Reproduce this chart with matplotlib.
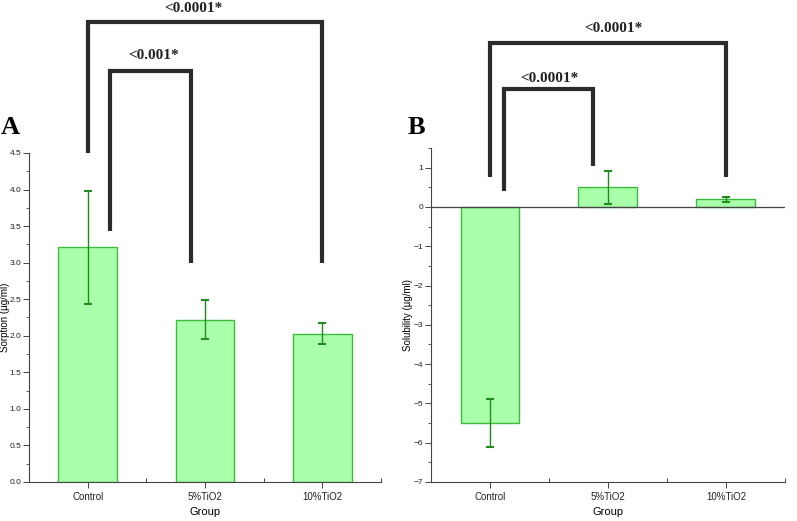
import matplotlib.pyplot as plt
import numpy as np

groups = ["Control", "5%TiO2", "10%TiO2"]
sorption = [3.21, 2.22, 2.03]
sorption_err = [0.77, 0.265, 0.14]
solubility = [-5.5, 0.5, 0.2]
solubility_err = [0.6, 0.42, 0.065]

# significance brackets: left x, right x, left foot, right foot, top, label, label x, label y
sig_a = [(0.0, 2.0, 4.5, 3.0, 6.29, "<0.0001*", 0.90, 6.47),
         (0.19, 0.88, 3.43, 3.0, 5.62, "<0.001*", 0.56, 5.83)]
sig_b = [(0.0, 2.0, 0.76, 0.76, 4.17, "<0.0001*", 1.05, 4.53),
         (0.12, 0.87, 0.41, 1.04, 3.0, "<0.0001*", 0.5, 3.28)]

face = "#aaffaa"
edge = "#3dbb3d"
errc = "#1e8c1e"
tick_font = ["Liberation Sans Narrow", "Liberation Sans", "DejaVu Sans"]
serif = ["Liberation Serif", "DejaVu Serif"]

fig = plt.figure(figsize=(7.97, 5.21), dpi=100)
ax_a = fig.add_axes([0.0364, 0.0749, 0.4417, 0.6315])
ax_b = fig.add_axes([0.5408, 0.0749, 0.444, 0.641])


def style(ax, ylabel, label_x):
    x = np.arange(len(groups))
    ax.set_xlim(-0.5, 2.5)
    for s in ["top", "right"]:
        ax.spines[s].set_visible(False)
    for s in ["left", "bottom"]:
        ax.spines[s].set_color("#444444")
        ax.spines[s].set_linewidth(0.8)
    ax.set_xticks(x)
    ax.set_xticklabels(groups, family=tick_font, fontsize=7)
    ax.set_xticks([0.5, 1.5, 2.5], minor=True)
    ax.tick_params(axis="x", which="major", direction="out", length=4, width=0.7, colors="#444444",
                   labelcolor="#222222", pad=3)
    ax.tick_params(axis="x", which="minor", direction="in", length=3, width=0.7, colors="#444444")
    ax.tick_params(axis="y", which="major", direction="out", length=4, width=0.7, colors="#444444",
                   labelsize=6, labelcolor="#222222", pad=1.5)
    ax.tick_params(axis="y", which="minor", direction="out", length=2, width=0.6, colors="#444444")
    for lab in ax.get_yticklabels():
        lab.set_family(tick_font)
    ax.set_xlabel("Group", family=tick_font, fontsize=8, labelpad=4)
    ax.set_ylabel(ylabel, family=["Liberation Sans", "DejaVu Sans"], fontsize=7, va="center")
    ax.yaxis.set_label_coords(label_x, 0.5)


def brackets(ax, sig):
    for xl, xr, yl, yr, top, label, lx, ly in sig:
        ax.plot([xl, xl, xr, xr], [yl, top, top, yr], color="#2b2b2b", lw=3,
                clip_on=False, solid_joinstyle="miter", solid_capstyle="butt")
        ax.text(lx, ly, label, ha="center", va="center", family=serif,
                fontweight="bold", fontsize=11, color="#222222", clip_on=False)


x = np.arange(len(groups))
ax_a.bar(x, sorption, width=0.5, color=face, edgecolor=edge, linewidth=1)
ax_a.errorbar(x, sorption, yerr=sorption_err, fmt="none", ecolor=errc, elinewidth=1,
              capsize=3, capthick=1.5)
ax_a.set_ylim(0, 4.5)
ax_a.set_yticks(np.arange(0, 4.51, 0.5))
ax_a.set_yticks(np.arange(0.25, 4.5, 0.5), minor=True)
ax_a.yaxis.set_major_formatter(plt.FormatStrFormatter("%.1f"))
style(ax_a, "Sorption (µg/ml)", -0.069)
brackets(ax_a, sig_a)

ax_b.bar(x, solubility, width=0.5, color=face, edgecolor=edge, linewidth=1)
ax_b.errorbar(x, solubility, yerr=solubility_err, fmt="none", ecolor=errc, elinewidth=1,
              capsize=3, capthick=1.5)
ax_b.axhline(0, color="#444444", lw=0.9, zorder=1)
ax_b.set_ylim(-7, 1.5)
ax_b.set_yticks(np.arange(-7, 1.1, 1))
ax_b.set_yticks(np.arange(-6.5, 1.6, 1), minor=True)
style(ax_b, "Solubility (µg/ml)", -0.066)
brackets(ax_b, sig_b)

fig.text(0.013, 0.756, "A", family=serif, fontweight="bold", fontsize=19, ha="center", va="center")
fig.text(0.522, 0.756, "B", family=serif, fontweight="bold", fontsize=19, ha="center", va="center")

fig.savefig("out.png", dpi=100)
